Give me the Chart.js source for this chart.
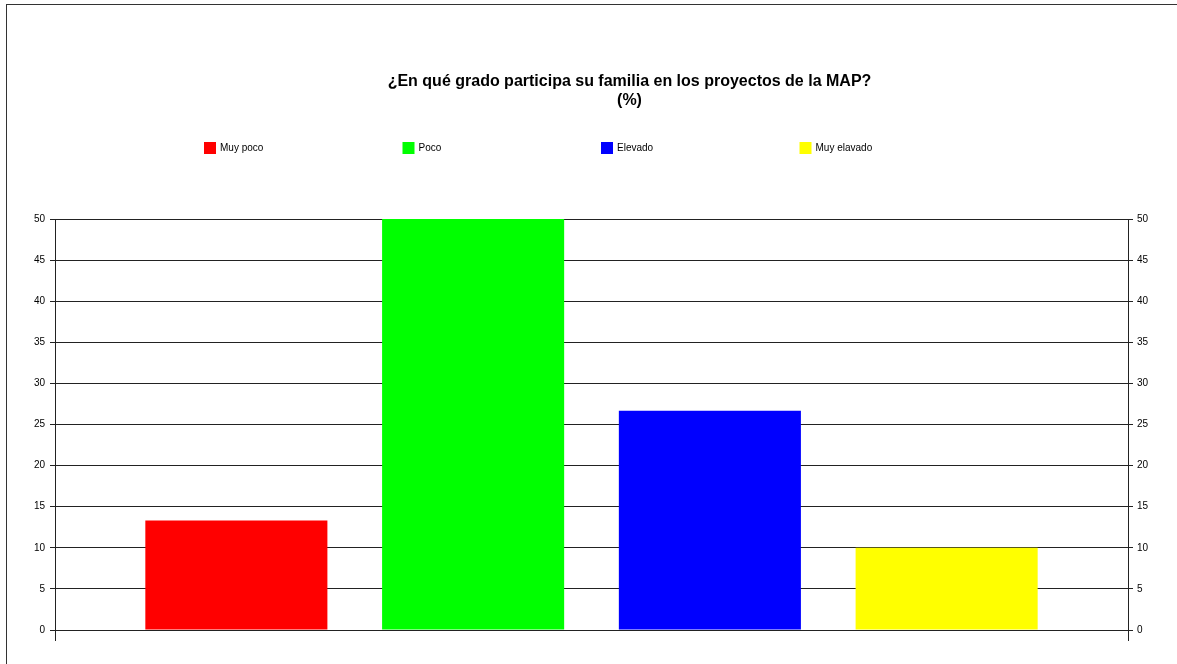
<!DOCTYPE html>
<html>
<head>
<meta charset="utf-8">
<script src="https://cdn.jsdelivr.net/npm/chart.js@4"></script>
<style>
  html, body { margin: 0; padding: 0; background: #fff; overflow: hidden; width: 1177px; height: 664px; }
  #frame { position: absolute; left: 6px; top: 4px; width: 1300px; height: 700px; border-left: 1px solid #333; border-top: 1px solid #333; }
  #chart { position: absolute; left: 0; top: 0; }
</style>
</head>
<body>
<div id="frame"></div>
<canvas id="chart" width="1259" height="664"></canvas>
<script>
// data
const categories = [''];
const seriesNames = ['Muy poco', 'Poco', 'Elevado', 'Muy elavado'];
const seriesValues = [13.33, 50, 26.67, 10];
const seriesColors = ['#ff0000', '#00ff00', '#0000ff', '#ffff00'];
const titleLines = ['¿En qué grado participa su familia en los proyectos de la MAP?', '(%)'];
const yMin = 0;
const yMax = 50;
const yStep = 5;

const FONT = '"Liberation Sans", Arial, sans-serif';
const LINE = '#222';

// legend laid out in fixed-width slots, one per series
const slotLegend = {
    id: 'slotLegend',
    afterDraw(chart) {
        const ctx = chart.ctx;
        ctx.save();
        ctx.font = '10px ' + FONT;
        ctx.textBaseline = 'middle';
        chart.data.datasets.forEach((ds, i) => {
            const x = 204 + i * 198.5;
            ctx.fillStyle = ds.backgroundColor;
            ctx.fillRect(x, 142, 12, 12);
            ctx.fillStyle = '#000';
            ctx.fillText(ds.label, x + 16, 148.5);
        });
        ctx.restore();
    }
};

const datasets = seriesNames.map((name, i) => ({
    label: name,
    data: [seriesValues[i]],
    backgroundColor: seriesColors[i],
    borderWidth: 0,
    categoryPercentage: 0.8826,
    barPercentage: 0.769
}));

new Chart(document.getElementById('chart').getContext('2d'), {
    type: 'bar',
    data: { labels: categories, datasets: datasets },
    plugins: [slotLegend],
    options: {
        responsive: false,
        animation: false,
        layout: { padding: 0 },
        plugins: {
            legend: { display: false },
            tooltip: { enabled: false },
            title: {
                display: true,
                text: titleLines,
                color: '#000',
                font: { family: FONT, size: 16, weight: 'bold', lineHeight: 1.2 },
                padding: { top: 72, bottom: 108.6 }
            }
        },
        scales: {
            x: {
                offset: true,
                ticks: { display: false },
                grid: { display: true, offset: true, drawOnChartArea: false, drawTicks: true, tickLength: 11, color: LINE },
                border: { display: true, color: LINE },
                afterFit(scale) { scale.height = 34; }
            },
            y: {
                position: 'left',
                min: yMin,
                max: yMax,
                ticks: { stepSize: yStep, color: '#000', padding: 5, font: { family: FONT, size: 10 } },
                grid: { color: LINE, lineWidth: 1, tickLength: 5 },
                border: { display: true, color: LINE },
                afterFit(scale) { scale.width = 55; }
            },
            y2: {
                position: 'right',
                min: yMin,
                max: yMax,
                ticks: { stepSize: yStep, color: '#000', padding: 4, font: { family: FONT, size: 10 } },
                grid: { drawOnChartArea: false, color: LINE, tickLength: 5 },
                border: { display: true, color: LINE },
                afterFit(scale) { scale.width = 131; }
            }
        }
    }
});
</script>
</body>
</html>
